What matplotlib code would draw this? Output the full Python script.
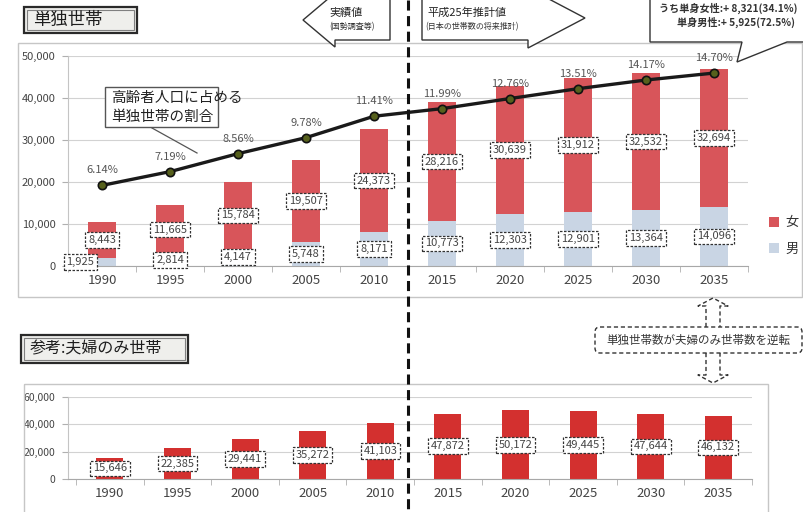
import matplotlib
matplotlib.use("Agg")
import matplotlib.pyplot as plt
from matplotlib.patches import Rectangle, Polygon, FancyBboxPatch
from matplotlib.ticker import FuncFormatter, FixedLocator

plt.rcParams['font.family'] = ['Noto Sans CJK JP', 'DejaVu Sans']

# ---- data (thousand households) ----
years = ['1990', '1995', '2000', '2005', '2010', '2015', '2020', '2025', '2030', '2035']
single_male = [1925, 2814, 4147, 5748, 8171, 10773, 12303, 12901, 13364, 14096]
single_female = [8443, 11665, 15784, 19507, 24373, 28216, 30639, 31912, 32532, 32694]
single_share_pct = [6.14, 7.19, 8.56, 9.78, 11.41, 11.99, 12.76, 13.51, 14.17, 14.70]
couple_only = [15646, 22385, 29441, 35272, 41103, 47872, 50172, 49445, 47644, 46132]

top_yticks = [0, 10000, 20000, 30000, 40000, 50000]
bottom_yticks = [0, 20000, 40000, 60000]

RED = '#d8555a'
RED2 = '#d3302f'
BLUE = '#c9d5e4'
TXT = '#444444'
W, H = 804, 512

fig = plt.figure(figsize=(W / 100, H / 100), dpi=100)
fig.patch.set_facecolor('white')


def fr(x0, y0, x1, y1):
    """pixel box (top-left origin) -> figure fraction rect"""
    return [x0 / W, 1 - y1 / H, (x1 - x0) / W, (y1 - y0) / H]


thousands = FuncFormatter(lambda v, p: f'{int(v):,}')


def style_axes(ax, yticks, fs):
    for s in ('top', 'right'):
        ax.spines[s].set_visible(False)
    ax.spines['left'].set_color('#c4c4c4')
    ax.spines['bottom'].set_color('#a8a8a8')
    ax.set_yticks(yticks)
    ax.yaxis.set_major_formatter(thousands)
    ax.yaxis.grid(True, color='#d2d2d2', lw=0.8)
    ax.set_axisbelow(True)
    ax.tick_params(axis='y', length=4, color='#b0b0b0', labelsize=fs,
                   labelcolor=TXT, pad=5)
    ax.tick_params(axis='x', which='major', length=0, labelsize=9.5,
                   labelcolor=TXT, pad=6)
    ax.xaxis.set_minor_locator(FixedLocator([i + 0.5 for i in range(-1, len(years))]))
    ax.tick_params(axis='x', which='minor', length=4, color='#b0b0b0')
    ax.set_facecolor('none')


label_box = dict(boxstyle='square,pad=0.25', fc='white', ec='#333333',
                 ls=(0, (2, 1.2)), lw=0.9)

# ---- single-person households ----
ax = fig.add_axes(fr(68, 56, 748, 266))
x = list(range(len(years)))
ax.bar(x, single_male, width=0.4, color=BLUE, label='男', zorder=2)
ax.bar(x, single_female, width=0.4, bottom=single_male, color=RED,
       label='女', zorder=2)
ax.set_xlim(-0.5, len(years) - 0.5)
ax.set_ylim(0, 50000)
ax.set_xticks(x)
ax.set_xticklabels(years)
style_axes(ax, top_yticks, 8)

for i, (m, f) in enumerate(zip(single_male, single_female)):
    dx = -0.32 if i == 0 else 0
    ax.text(i + dx, m / 2, f'{m:,}', ha='center', va='center', fontsize=8,
            color=TXT, bbox=label_box, zorder=5)
    ax.text(i, m + f / 2, f'{f:,}', ha='center', va='center', fontsize=8,
            color=TXT, bbox=label_box, zorder=5)

ax2 = ax.twinx()
ax2.set_ylim(0, 16.0)
ax2.axis('off')
ax2.plot(x, single_share_pct, color='#1a1a1a', lw=2.4, marker='o', ms=6,
         mfc='#56601c', mec='#111111', mew=1.2, zorder=6)
for i, p in enumerate(single_share_pct):
    ax2.annotate(f'{p:.2f}%', (i, p), xytext=(0, 15), textcoords='offset pixels',
                 ha='center', va='center', fontsize=8, color='#555555')

handles, labels = ax.get_legend_handles_labels()
fig.legend(handles[::-1], labels[::-1], loc='center left',
           bbox_to_anchor=(757 / W, 1 - 236 / H), frameon=False,
           handlelength=0.75, handleheight=0.75, handletextpad=0.5,
           labelspacing=1.0, fontsize=9.5, labelcolor='#333333')

# ---- couple-only households ----
bx = fig.add_axes(fr(68, 397, 752, 479))
bx.bar(x, couple_only, width=0.4, color=RED2, zorder=2)
bx.set_xlim(-0.62, 9.50)
bx.set_ylim(0, 60000)
bx.set_xticks(x)
bx.set_xticklabels(years)
style_axes(bx, bottom_yticks, 7.5)
for i, v in enumerate(couple_only):
    bx.text(i, v / 2, f'{v:,}', ha='center', va='center', fontsize=8,
            color=TXT, bbox=label_box, zorder=5)

# ---- overlay for frames, callouts and notes (pixel coordinates) ----
ov = fig.add_axes([0, 0, 1, 1], zorder=10)
ov.set_xlim(0, W)
ov.set_ylim(H, 0)
ov.axis('off')
ov.patch.set_alpha(0)

ov.add_patch(Rectangle((18, 43), 784, 254, fill=False, ec='#c6c6c6', lw=1))
ov.add_patch(Rectangle((24, 384), 744, 140, fill=False, ec='#c6c6c6', lw=1))


def title_box(x0, y0, x1, y1, text, fs):
    ov.add_patch(Rectangle((x0, y0), x1 - x0, y1 - y0, fc='#efefec',
                           ec='#2a2a2a', lw=1.6))
    ov.add_patch(Rectangle((x0 + 3, y0 + 3), x1 - x0 - 6, y1 - y0 - 6,
                           fill=False, ec='#808080', lw=0.8))
    ov.text(x0 + 9, (y0 + y1) / 2, text, ha='left', va='center',
            fontsize=fs, color='#1e1e1e')


title_box(24, 7, 137, 33, '単独世帯', 12.5)
title_box(21, 335, 188, 363, '参考:夫婦のみ世帯', 11.5)

# period arrows
ov.add_patch(Polygon([(390, -5), (390, 40), (335, 40), (335, 47), (303, 20),
                      (335, -7), (335, -5)], closed=True, fc='white',
                     ec='#333333', lw=1))
ov.text(329, 13, '実績値', ha='left', va='center', fontsize=8, color='#222222')
ov.text(329, 27, '(国勢調査等)', ha='left', va='center', fontsize=5.8,
        color='#333333')
ov.add_patch(Polygon([(422, -5), (422, 40), (528, 40), (528, 48), (585, 18),
                      (528, -12), (528, -5)], closed=True, fc='white',
                     ec='#333333', lw=1))
ov.text(427, 13, '平成25年推計値', ha='left', va='center', fontsize=8,
        color='#222222')
ov.text(425, 27, '(日本の世帯数の将来推計)', ha='left', va='center',
        fontsize=5.8, color='#333333')

# dashed divider between actual and projected values
ov.plot([408, 408], [0, H], color='#111111', lw=2.2, ls=(0, (3.3, 1.8)))

# growth callout (2010 -> 2035)
ov.add_patch(Polygon([(650, -5), (650, 42), (742, 42), (737, 62), (787, 42),
                      (812, 42), (812, -5)], closed=True, fc='white',
                     ec='#333333', lw=1))
ov.text(659, 8, 'うち単身女性:+ 8,321(34.1%)', ha='left', va='center',
        fontsize=7.3, color='#333333', fontweight='bold')
ov.text(677, 22, '単身男性:+ 5,925(72.5%)', ha='left', va='center',
        fontsize=7.3, color='#333333', fontweight='bold')

# line description
ov.add_patch(Rectangle((105, 87), 113, 40, fc='white', ec='#555555', lw=1))
ov.text(111, 98, '高齢者人口に占める', ha='left', va='center', fontsize=10.5,
        color='#222222')
ov.text(111, 117, '単独世帯の割合', ha='left', va='center', fontsize=10.5,
        color='#222222')
ov.plot([152, 197], [128, 153], color='#555555', lw=0.9)

# reversal note
ov.add_patch(FancyBboxPatch((595, 327), 207, 26,
                            boxstyle='round,pad=0,rounding_size=5',
                            fc='white', ec='#333333', lw=1, ls=(0, (3, 2))))
ov.text(698, 340, '単独世帯数が夫婦のみ世帯数を逆転', ha='center', va='center',
        fontsize=8.3, color='#333333')
ov.plot([706, 706, 698, 713, 728, 720, 720],
        [327, 306, 306, 298, 306, 306, 327], color='#333333', lw=1,
        ls=(0, (3, 2)))
ov.plot([706, 706, 698, 713, 728, 720, 720],
        [353, 375, 375, 383, 375, 375, 353], color='#333333', lw=1,
        ls=(0, (3, 2)))

fig.savefig('out.png', dpi=100)
